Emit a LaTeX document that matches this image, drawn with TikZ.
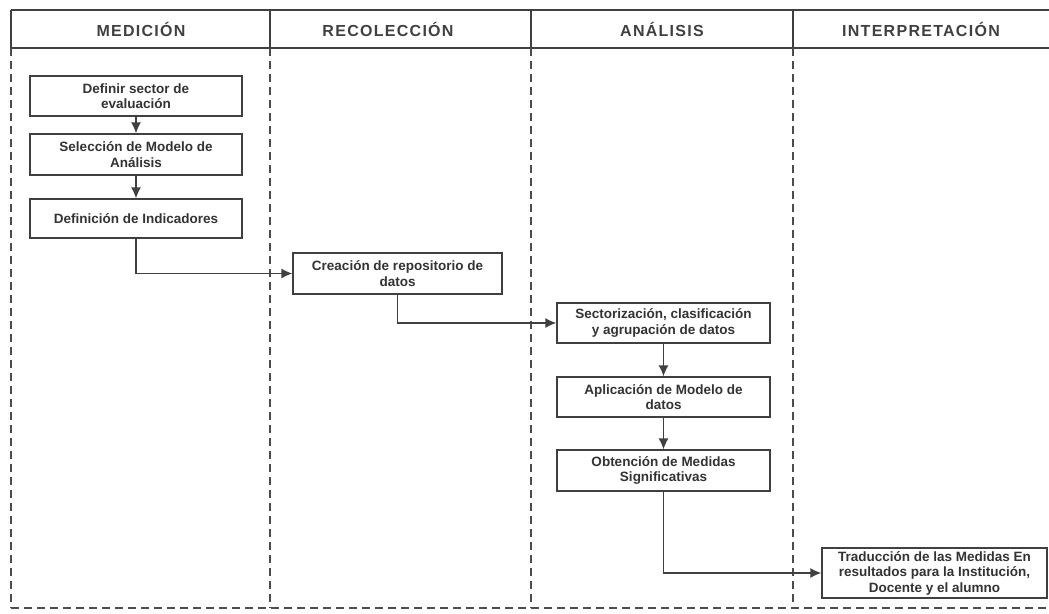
\documentclass[tikz,border=0pt]{standalone}
\usepackage{fontspec}
\setmainfont{Liberation Sans}
\usetikzlibrary{arrows.meta}
\begin{document}
\begin{tikzpicture}[x=1pt,y=-1pt,
  ln/.style={draw=black!75, line width=1.3pt},
  box/.style={ln, fill=white, minimum height=40pt, inner sep=1pt, align=center, font=\bfseries\fontsize{13.5}{15.5}\selectfont, text=black!80},
  arr/.style={ln, -{Latex[length=11pt,width=10pt]}},
  hdr/.style={font=\bfseries\fontsize{16}{18}\selectfont\addfontfeature{LetterSpace=8}, text=black!75},
  dsh/.style={draw=black!70, line width=1.1pt, dash pattern=on 8pt off 5pt}]
\useasboundingbox (0,0) rectangle (1049,613);
% header
\draw[ln] (11,10) -- (1049,10);
\draw[ln] (11,48) -- (1049,48);
\foreach \x in {11,270,531,793} \draw[ln] (\x,10) -- (\x,48);
\node[hdr] (h1) at (141,29) {MEDICIÓN};
\node[hdr] (h2) at (388,29) {RECOLECCIÓN};
\node[hdr] (h3) at (662,29) {ANÁLISIS};
\node[hdr] (h4) at (921,29) {INTERPRETACIÓN};
% lanes
\foreach \x in {11,270,531,793} \draw[dsh] (\x,48) -- (\x,608);
\draw[dsh] (11,608) -- (1049,608);
% boxes
\node[box, minimum width=212pt] (b1) at (136,96) {Definir sector de\\evaluación};
\node[box, minimum width=212pt, minimum height=41pt] (b2) at (136,154.5) {Selección de Modelo de\\Análisis};
\node[box, minimum width=212pt, minimum height=39pt] (b3) at (136,218.5) {Definición de Indicadores};
\node[box, minimum width=209pt, minimum height=41pt] (b4) at (397.5,273.5) {Creación de repositorio de\\datos};
\node[box, minimum width=213pt] (b5) at (663.5,323) {Sectorización, clasificación\\y agrupación de datos};
\node[box, minimum width=213pt] (b6) at (663.5,397) {Aplicación de Modelo de\\datos};
\node[box, minimum width=213pt, minimum height=41pt] (b7) at (663.5,470.5) {Obtención de Medidas\\Significativas};
\node[box, minimum width=225pt, minimum height=50pt] (b8) at (934.5,573) {Traducción de las Medidas En\\resultados para la Institución,\\Docente y el alumno};
% connectors
\draw[arr] (b1) -- (b2);
\draw[arr] (b2) -- (b3);
\draw[arr] (b3.south) |- (b4.west);
\draw[arr] (b4.south) |- (b5.west);
\draw[arr] (b5) -- (b6);
\draw[arr] (b6) -- (b7);
\draw[arr] (b7.south) |- (b8.west);
\end{tikzpicture}
\end{document}
